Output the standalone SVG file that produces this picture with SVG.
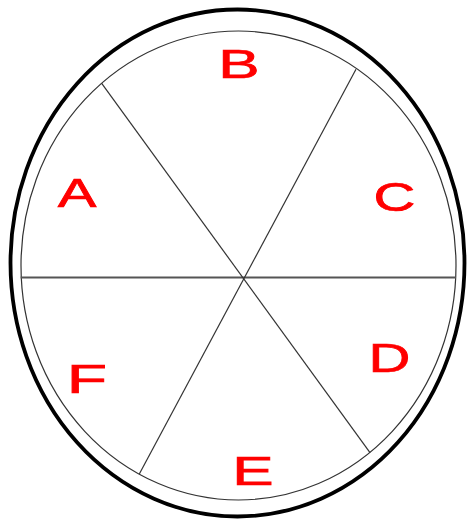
<svg xmlns="http://www.w3.org/2000/svg" width="467" height="519" viewBox="0 0 467 519">
<style>
.lbl{font-family:"Liberation Sans",Arial,sans-serif;font-size:40px;fill:#ff0000;stroke:#ff0000;stroke-width:0.7;text-anchor:middle}
.spoke{stroke:#333;stroke-width:1.2;fill:none}
.axis{stroke:#555;stroke-width:1.8;fill:none}
</style>
<rect width="467" height="519" fill="#fff"/>
<g id="rim">
<ellipse cx="237.5" cy="263" rx="227" ry="253.5" fill="none" stroke="#000" stroke-width="3.8"/>
<ellipse cx="238.5" cy="265.5" rx="217.5" ry="234.5" fill="none" stroke="#333" stroke-width="1.2"/>
</g>
<g id="connectors">
<line class="axis" x1="20.7" y1="277.5" x2="456" y2="277.5"/>
<line class="spoke" x1="101.7" y1="83.3" x2="370" y2="452.7"/>
<line class="spoke" x1="356" y1="69.3" x2="139.3" y2="474"/>
</g>
<g id="A"><text class="lbl" transform="translate(77,207) scale(1.45,1)">A</text></g>
<g id="B"><text class="lbl" transform="translate(239,78) scale(1.55,1)">B</text></g>
<g id="C"><text class="lbl" transform="translate(394.5,211) scale(1.45,1)">C</text></g>
<g id="D"><text class="lbl" transform="translate(389.5,372) scale(1.45,1)">D</text></g>
<g id="E"><text class="lbl" transform="translate(253,485) scale(1.55,1)">E</text></g>
<g id="F"><text class="lbl" transform="translate(87,393) scale(1.65,1)">F</text></g>
</svg>
